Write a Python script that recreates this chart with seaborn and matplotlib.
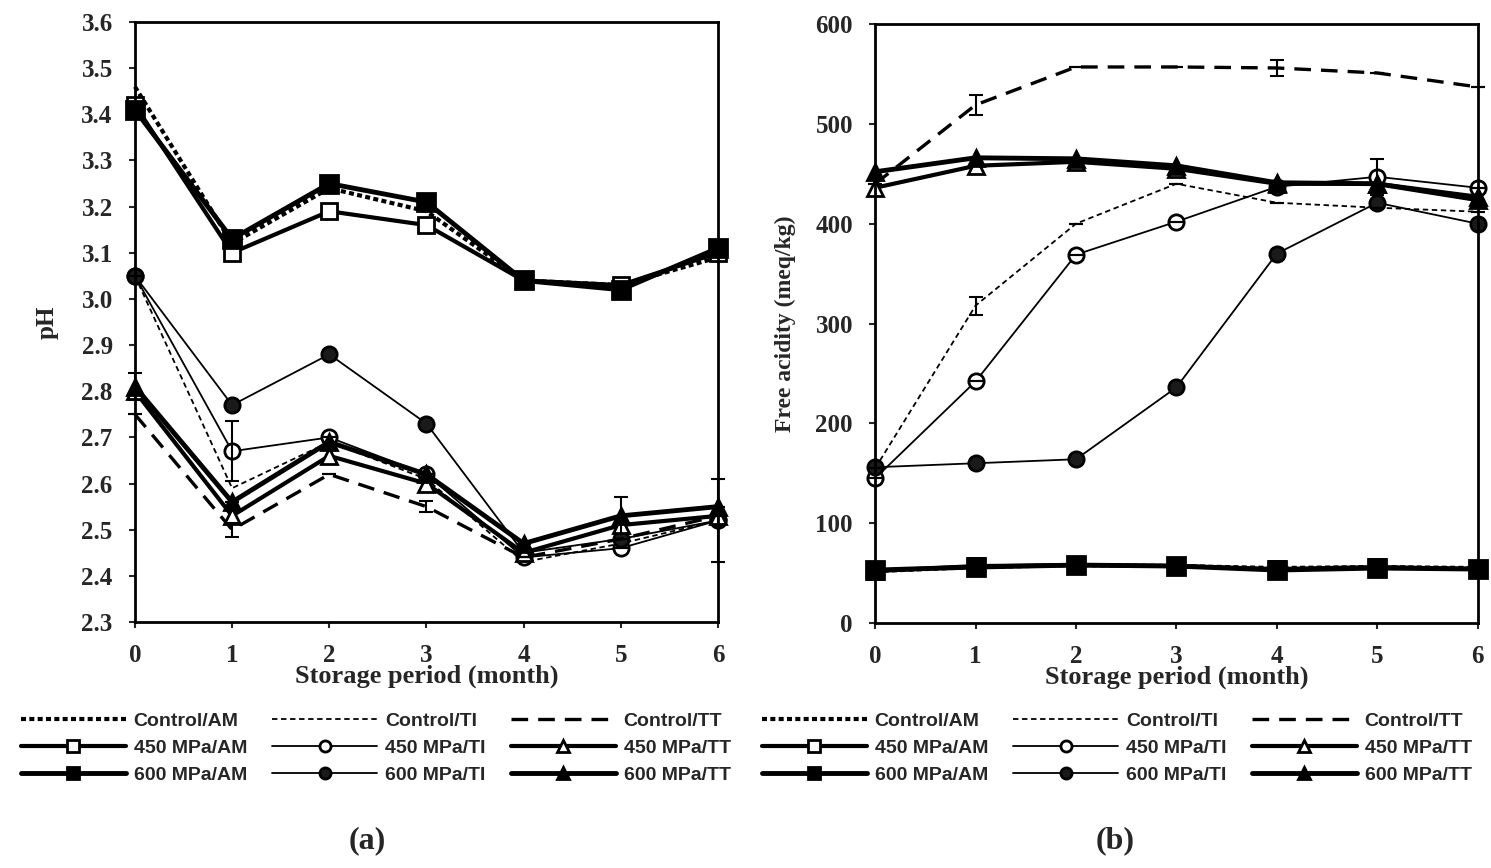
import matplotlib
matplotlib.use('Agg')
import matplotlib.pyplot as plt
import seaborn as sns
import pandas as pd

sns.set_style('ticks')
plt.rcParams['font.family'] = ['Liberation Serif', 'DejaVu Serif']

months = [0, 1, 2, 3, 4, 5, 6]

# pH values, panel (a)
ph_control_am = [3.46, 3.12, 3.24, 3.19, 3.04, 3.03, 3.09]
ph_450_am = [3.42, 3.10, 3.19, 3.16, 3.04, 3.03, 3.10]
ph_600_am = [3.41, 3.13, 3.25, 3.21, 3.04, 3.02, 3.11]
ph_control_ti = [3.05, 2.59, 2.69, 2.61, 2.43, 2.47, 2.52]
ph_450_ti = [3.05, 2.67, 2.70, 2.62, 2.44, 2.46, 2.52]
ph_600_ti = [3.05, 2.77, 2.88, 2.73, 2.45, 2.48, 2.52]
ph_control_tt = [2.75, 2.50, 2.62, 2.55, 2.44, 2.48, 2.53]
ph_450_tt = [2.80, 2.53, 2.66, 2.60, 2.45, 2.51, 2.53]
ph_600_tt = [2.81, 2.56, 2.69, 2.62, 2.47, 2.53, 2.55]

# free acidity (meq/kg), panel (b)
fa_control_am = [52, 56, 58, 57, 55, 56, 55]
fa_450_am = [52, 57, 58, 57, 54, 56, 54]
fa_600_am = [53, 56, 58, 57, 53, 55, 54]
fa_control_ti = [155, 318, 400, 440, 421, 416, 412]
fa_450_ti = [145, 242, 369, 402, 437, 447, 436]
fa_600_ti = [156, 160, 164, 236, 370, 421, 400]
fa_control_tt = [440, 519, 557, 557, 556, 551, 537]
fa_450_tt = [436, 458, 462, 455, 440, 440, 427]
fa_600_tt = [452, 466, 465, 458, 441, 440, 424]

# a few visible error bars
ph_err_450_ti = [0, 0.065, 0, 0, 0, 0, 0.09]
ph_err_control_tt = [0, 0.015, 0, 0.012, 0, 0, 0]
ph_err_600_tt = [0.03, 0, 0, 0, 0, 0.04, 0]
fa_err_control_tt = [0, 10, 0, 0, 8, 0, 0]
fa_err_control_ti = [0, 9, 0, 0, 0, 0, 0]
fa_err_450_ti = [0, 0, 0, 0, 0, 18, 0]

labels = ['Control/AM', '450 MPa/AM', '600 MPa/AM',
          'Control/TI', '450 MPa/TI', '600 MPa/TI',
          'Control/TT', '450 MPa/TT', '600 MPa/TT']

# line style per series: (linestyle, linewidth, marker, facecolor, markersize)
styles = {
    'Control/AM': ((0, (1.2, 0.8)), 3.0, None, 'black', 0),
    '450 MPa/AM': ('-', 3.0, 's', 'white', 12),
    '600 MPa/AM': ('-', 3.5, 's', 'black', 13),
    'Control/TI': ((0, (3, 2)), 1.3, None, 'black', 0),
    '450 MPa/TI': ('-', 1.3, 'o', 'white', 11),
    '600 MPa/TI': ('-', 1.3, 'o', '#1a1a1a', 11),
    'Control/TT': ((0, (5, 3)), 2.4, None, 'black', 0),
    '450 MPa/TT': ('-', 3.0, '^', 'white', 11),
    '600 MPa/TT': ('-', 3.5, '^', 'black', 12),
}

ph_series = [ph_control_am, ph_450_am, ph_600_am, ph_control_ti, ph_450_ti,
             ph_600_ti, ph_control_tt, ph_450_tt, ph_600_tt]
fa_series = [fa_control_am, fa_450_am, fa_600_am, fa_control_ti, fa_450_ti,
             fa_600_ti, fa_control_tt, fa_450_tt, fa_600_tt]

fig = plt.figure(figsize=(14.91, 8.68), dpi=100)
ax1 = fig.add_axes([0.0905, 0.2834, 0.391, 0.6912])
ax2 = fig.add_axes([0.587, 0.2823, 0.404, 0.6900])


def draw(ax, series):
    for lab, vals in zip(labels, series):
        ls, lw, mk, fc, ms = styles[lab]
        df = pd.DataFrame({'month': months, 'value': vals})
        sns.lineplot(data=df, x='month', y='value', ax=ax, color='black',
                     linestyle=ls, linewidth=lw, marker=mk, markersize=ms,
                     markerfacecolor=fc, markeredgecolor='black',
                     markeredgewidth=2, label=lab, clip_on=False,
                     legend=False)


draw(ax1, ph_series)
draw(ax2, fa_series)

for ax, vals, err in [(ax1, ph_450_ti, ph_err_450_ti),
                      (ax1, ph_control_tt, ph_err_control_tt),
                      (ax1, ph_600_tt, ph_err_600_tt),
                      (ax2, fa_control_tt, fa_err_control_tt),
                      (ax2, fa_control_ti, fa_err_control_ti),
                      (ax2, fa_450_ti, fa_err_450_ti)]:
    ax.errorbar(months, vals, yerr=err, fmt='none', ecolor='black',
                elinewidth=1.5, capsize=5, capthick=1.5, clip_on=False)

ax1.set_xlim(0, 6)
ax1.set_ylim(2.3, 3.6)
ax1.set_yticks([2.3 + 0.1 * i for i in range(14)])
ax1.set_yticklabels([f'{2.3 + 0.1 * i:.1f}' for i in range(14)])
ax1.set_ylabel('pH', fontsize=18, fontweight='bold', labelpad=16)

ax2.set_xlim(0, 6)
ax2.set_ylim(0, 600)
ax2.set_yticks(range(0, 601, 100))
ax2.set_ylabel('Free acidity (meq/kg)', fontsize=17, fontweight='bold',
               labelpad=14)

for ax in (ax1, ax2):
    ax.set_xticks(months)
    ax.set_xlabel('Storage period (month)', fontsize=19, fontweight='bold',
                  labelpad=-2)
    ax.tick_params(direction='out', length=4, width=1.5, labelsize=18,
                   top=False, right=False, pad=12)
    for t in ax.get_xticklabels() + ax.get_yticklabels():
        t.set_fontweight('bold')
    for sp in ax.spines.values():
        sp.set_visible(True)
        sp.set_linewidth(2)
        sp.set_color('black')

handles, labs = ax1.get_legend_handles_labels()
for cx in (0.252, 0.749):
    leg = fig.legend(handles, labs, loc='upper center',
                     bbox_to_anchor=(cx, 0.2), ncol=3, frameon=False,
                     handlelength=5.4, columnspacing=1.3, handletextpad=0.4,
                     labelspacing=0.5,
                     prop={'family': ['Liberation Sans'], 'weight': 'bold',
                           'size': 14})
    for h in leg.legend_handles:
        h.set_markersize(8)

fig.text(0.246, 0.032, '(a)', fontsize=23, fontweight='bold',
         ha='center', va='center')
fig.text(0.748, 0.032, '(b)', fontsize=23, fontweight='bold',
         ha='center', va='center')

fig.savefig('out.png', dpi=100)
